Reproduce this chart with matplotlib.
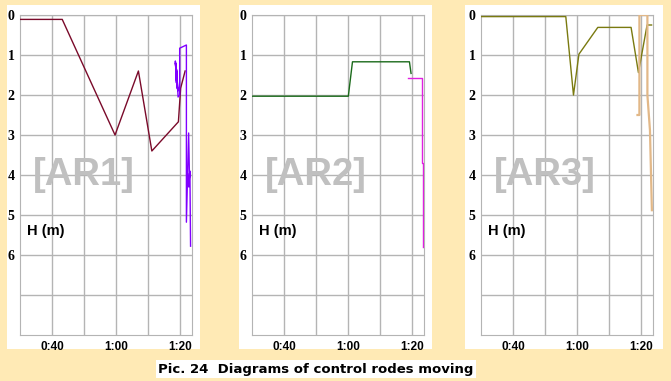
import matplotlib.pyplot as plt
from matplotlib.patches import Rectangle

# time in minutes, depth H in metres
ar1_main_t = [30, 43.2, 59.7, 67.0, 71.2, 79.5, 80.2, 81.6]
ar1_main_h = [0.11, 0.11, 3.0, 1.4, 3.4, 2.67, 1.83, 1.4]
ar1_aux_t = [78.6, 78.8, 78.55, 78.9, 78.6, 79.0, 78.7, 79.1, 78.8, 79.2, 78.9, 79.3, 79.0,
             79.4, 79.9, 79.9, 82.0, 82.0, 82.7, 82.95, 82.75, 83.0, 82.8, 83.1, 83.3]
ar1_aux_h = [1.2, 1.5, 1.15, 1.7, 1.2, 1.75, 1.25, 1.8, 1.3, 1.85, 1.35, 1.9, 1.4,
             2.05, 2.0, 0.83, 0.75, 5.18, 2.95, 4.0, 4.3, 3.95, 4.25, 3.9, 5.78]

ar2_main_t = [30, 60.1, 61.4, 79.2, 79.7]
ar2_main_h = [2.03, 2.03, 1.17, 1.17, 1.46]
ar2_aux_t = [78.7, 83.0, 83.0, 83.35, 83.35]
ar2_aux_h = [1.58, 1.58, 3.71, 3.71, 5.79]

ar3_main_t = [30, 56.5, 58.9, 60.6, 66.5, 76.9, 79.2, 81.9, 83.3]
ar3_main_h = [0.04, 0.04, 2.0, 0.98, 0.31, 0.31, 1.44, 0.25, 0.25]
ar3_aux_t = [78.9, 79.5, 79.5, 82.0, 82.0, 82.8, 83.4]
ar3_aux_h = [2.5, 2.5, 0.0, 0.0, 2.0, 2.88, 4.88]

names = ['[AR1]', '[AR2]', '[AR3]']
y_labels = ['0', '1', '2', '3', '4', '5', '6', '']
x_ticks = [40, 50, 60, 70, 80]
x_labels = ['0:40', '', '1:00', '', '1:20']

W, H = 671, 381
bg = '#FFEAB5'
fig = plt.figure(figsize=(W / 100, H / 100), dpi=100, facecolor=bg)

# (white box left, white box right, plot left) in pixels
panels = [(7, 200, 20), (239, 432, 252), (465, 663, 481)]
series = [
    (ar1_main_t, ar1_main_h, '#7A0A2A', ar1_aux_t, ar1_aux_h, '#8000FF', 1.0),
    (ar2_main_t, ar2_main_h, '#1A6A1A', ar2_aux_t, ar2_aux_h, '#E020E0', 1.0),
    (ar3_main_t, ar3_main_h, '#7A7A10', ar3_aux_t, ar3_aux_h, '#E2B888', 1.6),
]

for (wl, wr, pl), (mt, mh, mc, at, ah, ac, alw), name in zip(panels, series, names):
    fig.patches.append(Rectangle((wl / W, 1 - 349 / H), (wr - wl) / W, 344 / H,
                                 transform=fig.transFigure, facecolor='white',
                                 edgecolor='none', zorder=-5))
    ax = fig.add_axes([pl / W, 1 - 335 / H, 172 / W, 320 / H])
    ax.set_facecolor('white')
    ax.set_xlim(30, 83.75)
    ax.set_ylim(8, 0)
    ax.set_yticks(range(8))
    ax.set_yticklabels(y_labels, fontfamily='Liberation Serif', fontweight='bold', fontsize=10)
    ax.set_xticks(x_ticks)
    ax.set_xticklabels(x_labels, fontfamily='Liberation Sans', fontweight='bold', fontsize=8.5)
    ax.tick_params(length=0, pad=4)
    ax.grid(True, color='#B4B4B4', lw=1)
    for s in ax.spines.values():
        s.set_color('#B4B4B4')
    ax.text(49.8, 4.0, name, fontsize=27.5, color='#C0C0C0', ha='center', va='center',
            fontfamily='Liberation Sans', fontweight='bold', zorder=2)
    ax.text(32.2, 5.4, 'H (m)', fontsize=10.5, fontweight='bold', ha='left', va='center',
            fontfamily='Liberation Sans', zorder=2)
    ax.plot(mt, mh, color=mc, lw=1.0, zorder=3)
    ax.plot(at, ah, color=ac, lw=alw, zorder=3)

fig.text(316 / W, 1 - 369 / H, 'Pic. 24  Diagrams of control rodes moving',
         fontfamily='DejaVu Sans', fontweight='bold', fontsize=9.5,
         ha='center', va='center',
         bbox=dict(facecolor='white', edgecolor='none', pad=2))

fig.savefig('out.png', dpi=100, facecolor=bg)
